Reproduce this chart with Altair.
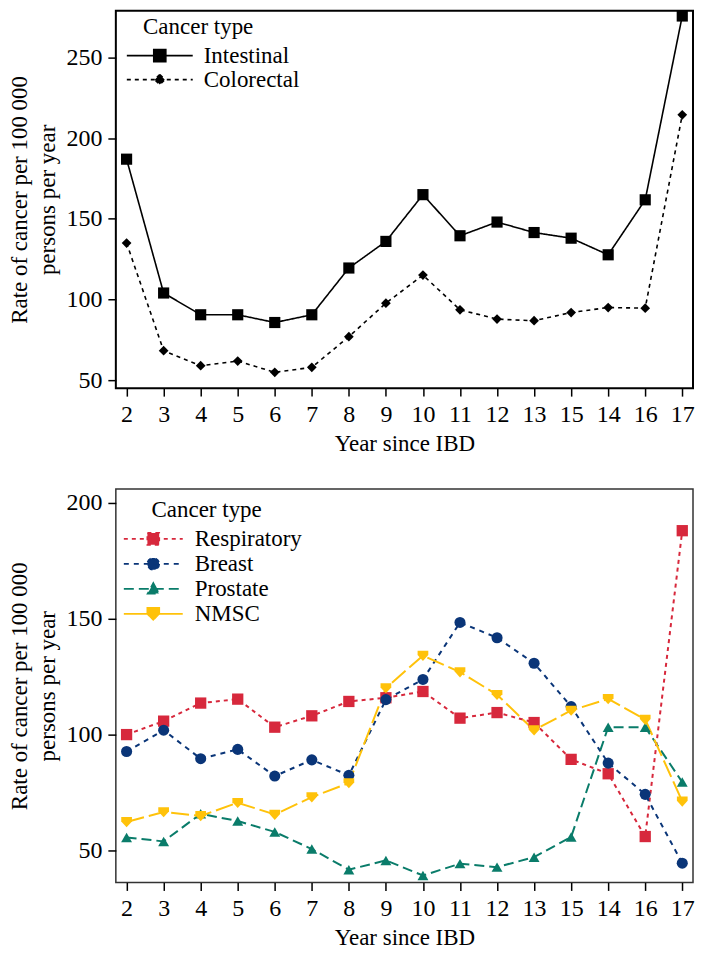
import altair as alt
import pandas as pd

years = ["2", "3", "4", "5", "6", "7", "8", "9", "10", "11", "12", "13", "15", "14", "16", "17"]

top_types = ["Intestinal", "Colorectal"]
intestinal = [187, 104, 90.5, 90.5, 85.7, 90.5, 119.5, 136, 165, 139.5, 148, 141.5, 138, 127.7, 161.8, 275.8]
colorectal = [135, 68.2, 58.9, 61.8, 54.8, 57.9, 76.9, 97.7, 115.1, 93.6, 87.8, 86.8, 91.9, 95, 94.6, 214.5]

bottom_types = ["Respiratory", "Breast", "Prostate", "NMSC"]
respiratory = [100, 105.8, 113.6, 115.3, 103.2, 108.1, 114.3, 115.9, 118.6, 107.1, 109.5, 105.2, 89.3, 83.1, 56, 188]
breast = [92.7, 101.9, 89.6, 93.6, 82.1, 89.1, 82.4, 115.1, 123.8, 148.4, 141.8, 130.8, 112.1, 87.7, 74.2, 44.5]
prostate = [55.6, 53.9, 65.8, 62.7, 58, 50.6, 41.7, 45.7, 39.2, 44.3, 42.8, 47.1, 55.8, 103.2, 103.2, 79.5]
nmsc = [62.3, 66.6, 64.9, 70.6, 65.5, 73, 79.1, 120.1, 134.1, 127, 117.2, 101.9, 110.4, 115.4, 106.5, 71.2]
bottom_colors = ["#D7283C", "#0A3578", "#0A7C6A", "#FFC20A"]

FONT = "Liberation Serif"
LFS = 24
TFS = 23


def to_long(types, series, key):
    rows = []
    for t, vals in zip(types, series):
        for yr, v in zip(years, vals):
            rows.append({"year": yr, "rate": v, key: t})
    return pd.DataFrame(rows)


top_df = to_long(top_types, [intestinal, colorectal], "ttype")
bot_df = to_long(bottom_types, [respiratory, breast, prostate, nmsc], "btype")


def x_enc():
    return alt.X(
        "year:O", sort=years,
        scale=alt.Scale(type="point", padding=0.29),
        axis=alt.Axis(title="Year since IBD", labelAngle=0, tickSize=8, tickWidth=1.5,
                      tickColor="black", labelPadding=6, titlePadding=6, domain=False, grid=False),
    )


def y_enc(domain, values):
    return alt.Y(
        "rate:Q",
        scale=alt.Scale(domain=domain, nice=False, zero=False),
        axis=alt.Axis(title=["Rate of cancer per 100 000", "persons per year"], values=values,
                      tickSize=8, tickWidth=1.5, tickColor="black", labelPadding=6,
                      titlePadding=6, titleLineHeight=28, domain=False, grid=False),
    )


def sq(h):
    return f"M-1,0H1M{-h},{-h}H{h}V{h}H{-h}Z"


def dia(h):
    return f"M-1,0H1M0,{-h}L{h},0L0,{h}L{-h},0Z"


def circ(r):
    return f"M-1,0H1M{r},0A{r},{r},0,1,1,{-r},0A{r},{r},0,1,1,{r},0Z"


def tri_up(h):
    return f"M-1,0H1M0,{-h}L{h},{h * 0.85}L{-h},{h * 0.85}Z"


def shield(h):
    return f"M-1,0H1M{-h},{-h}H{h}V0L0,{h}L{-h},0Z"


def make_legend(x, y, size, row_pad, label_offset, title):
    return alt.Legend(
        title=title, orient="none", legendX=x, legendY=y, direction="vertical",
        clipHeight=24, rowPadding=row_pad, symbolSize=size, symbolStrokeWidth=1.8,
        labelOffset=label_offset, symbolOffset=0, padding=0, titlePadding=5,
        labelFont=FONT, titleFont=FONT, labelFontSize=TFS, titleFontSize=TFS,
        titleFontWeight="normal", labelColor="black", titleColor="black",
        titleLimit=500, labelLimit=500, symbolOpacity=1,
    )


TOP_DOM = [45.0, 279.1]
BOT_DOM = [36.2, 206.0]
W = 578

# ---------------- top panel ----------------
top_line = alt.Chart(top_df).mark_line(color="black", strokeWidth=1.6).encode(
    x=x_enc(),
    y=y_enc(TOP_DOM, [50, 100, 150, 200, 250]),
    strokeDash=alt.StrokeDash("ttype:N", scale=alt.Scale(domain=top_types, range=[[1, 0], [4, 4]]), legend=None),
)
top_pts = alt.Chart(top_df).mark_point(filled=True, color="black", opacity=1).encode(
    x=x_enc(),
    y=y_enc(TOP_DOM, [50, 100, 150, 200, 250]),
    shape=alt.Shape("ttype:N", scale=alt.Scale(domain=top_types, range=["square", "diamond"]), legend=None),
    size=alt.Size("ttype:N", scale=alt.Scale(domain=top_types, range=[125, 95]), legend=None),
)
top_leg_df = pd.DataFrame({"tleg": top_types})
tl = make_legend(10, 5, 66 * 66, 0, 10, "\u200b\u00a0\u00a0\u00a0Cancer type")
top_leg = alt.Chart(top_leg_df).mark_point(filled=True, opacity=0, strokeWidth=1.8).encode(
    shape=alt.Shape("tleg:N", scale=alt.Scale(domain=top_types, range=[sq(0.18), dia(0.15)]), legend=tl),
    fill=alt.Fill("tleg:N", scale=alt.Scale(domain=top_types, range=["black", "black"]), legend=tl),
    stroke=alt.Stroke("tleg:N", scale=alt.Scale(domain=top_types, range=["black", "black"]), legend=tl),
    strokeDash=alt.StrokeDash("tleg:N", scale=alt.Scale(domain=top_types, range=[[1, 0], [4, 4]]), legend=tl),
)
top = alt.layer(top_line, top_pts, top_leg).resolve_scale(
    shape="independent", strokeDash="independent", fill="independent", stroke="independent"
).resolve_legend(
    shape="independent", strokeDash="independent", fill="independent", stroke="independent"
).properties(
    width=W, height=378, view=alt.ViewBackground(stroke="black", strokeWidth=2)
)

# ---------------- bottom panel ----------------
bot_line = alt.Chart(bot_df).mark_line(strokeWidth=2).encode(
    x=x_enc(),
    y=y_enc(BOT_DOM, [50, 100, 150, 200]),
    color=alt.Color("btype:N", scale=alt.Scale(domain=bottom_types, range=bottom_colors), legend=None),
    strokeDash=alt.StrokeDash("btype:N", scale=alt.Scale(domain=bottom_types,
                                                         range=[[4, 4], [5, 5], [10, 5], [18, 5]]), legend=None),
)
bot_pts = alt.Chart(bot_df).mark_point(filled=True, opacity=1).encode(
    x=x_enc(),
    y=y_enc(BOT_DOM, [50, 100, 150, 200]),
    color=alt.Color("btype:N", scale=alt.Scale(domain=bottom_types, range=bottom_colors), legend=None),
    shape=alt.Shape("btype:N", scale=alt.Scale(domain=bottom_types,
                                               range=["square", "circle", "triangle-up",
                                                      "M-1,-0.9H1V-0.1L0,1L-1,-0.1Z"]), legend=None),
    size=alt.Size("btype:N", scale=alt.Scale(domain=bottom_types, range=[128, 115, 150, 150]), legend=None),
)
bot_leg_df = pd.DataFrame({"bleg": bottom_types})
bl = make_legend(7, 10, 59 * 59, 1, 11, "\u200b\u00a0\u00a0\u00a0\u00a0\u00a0Cancer type")
bot_leg = alt.Chart(bot_leg_df).mark_point(filled=True, opacity=0, strokeWidth=1.8).encode(
    shape=alt.Shape("bleg:N", scale=alt.Scale(domain=bottom_types,
                                              range=[sq(0.2), circ(0.2), tri_up(0.19), shield(0.2)]), legend=bl),
    fill=alt.Fill("bleg:N", scale=alt.Scale(domain=bottom_types, range=bottom_colors), legend=bl),
    stroke=alt.Stroke("bleg:N", scale=alt.Scale(domain=bottom_types, range=bottom_colors), legend=bl),
    strokeDash=alt.StrokeDash("bleg:N", scale=alt.Scale(domain=bottom_types,
                                                        range=[[4, 4], [5, 5], [10, 5], [1, 0]]), legend=bl),
)
bottom = alt.layer(bot_line, bot_pts, bot_leg).resolve_scale(
    shape="independent", strokeDash="independent", fill="independent", stroke="independent"
).resolve_legend(
    shape="independent", strokeDash="independent", fill="independent", stroke="independent"
).properties(
    width=W, height=394, view=alt.ViewBackground(stroke="#333333", strokeWidth=1.5)
)

chart = alt.vconcat(top, bottom, spacing=32).resolve_scale(
    color="independent", shape="independent", size="independent", strokeDash="independent",
    fill="independent", stroke="independent"
).resolve_legend(
    color="independent", shape="independent", size="independent", strokeDash="independent",
    fill="independent", stroke="independent"
).properties(
    padding={"left": 0, "top": 0, "right": 0, "bottom": 0}
).configure(font=FONT).configure_axis(
    labelFont=FONT, titleFont=FONT, labelFontSize=LFS, titleFontSize=TFS,
    titleFontWeight="normal", labelColor="black", titleColor="black",
)

chart.save("out.html", embed_options={"renderer": "svg", "actions": False})
